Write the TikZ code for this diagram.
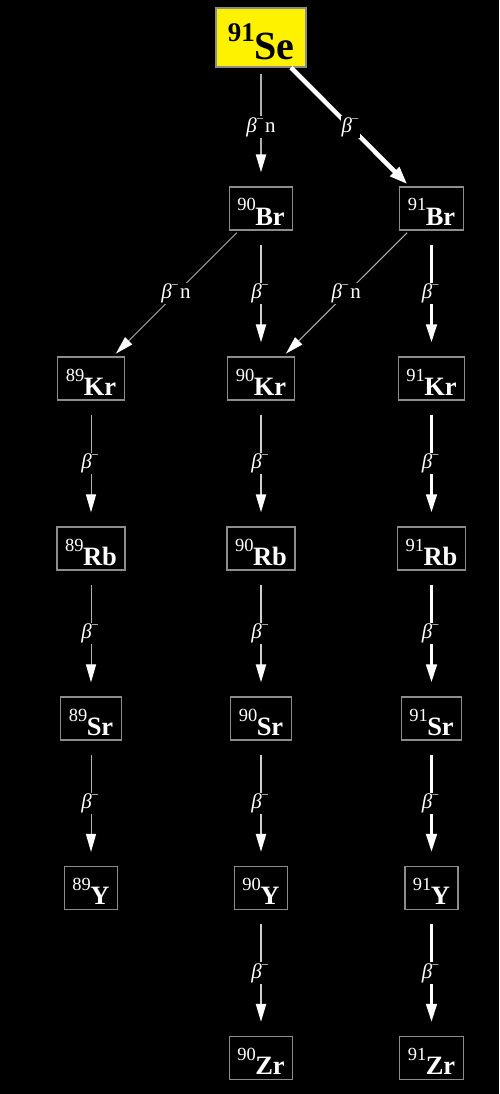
\documentclass[tikz,border=0pt]{standalone}
\usepackage{fontspec}
\setmainfont{Liberation Serif}
\usetikzlibrary{arrows.meta}
\definecolor{boxgray}{HTML}{8C8C8C}
\definecolor{linegray}{HTML}{B0B0B0}
\definecolor{midgray}{HTML}{D0D0D0}
% nuclide label: mass number raised, element symbol in bold
\newcommand\nuc[2]{\raisebox{14pt}{\fontsize{18.5pt}{18.5pt}\selectfont #1}\kern-0.5pt{\fontsize{26.5pt}{26.5pt}\selectfont\bfseries #2}}
% decay labels
\newcommand\bminus{\textit{β}\kern-0.5pt\raisebox{9pt}{\fontsize{13pt}{13pt}\selectfont −}}
\newcommand\bminusn{\bminus\kern1.5pt n}
\begin{document}
\begin{tikzpicture}[x=1pt,y=-1pt,
  nuclide/.style={draw=boxgray, line width=1.2pt, fill=black, text=white,
    inner xsep=8pt, inner ysep=0pt, minimum height=43pt,
    text height=33pt, text depth=0pt},
  parent/.style={draw=boxgray, line width=1.2pt, fill=yellow, text=black,
    inner xsep=10pt, inner ysep=0pt, minimum height=59pt, minimum width=90pt,
    text height=45pt, text depth=0pt},
  lbl/.style={fill=black, text=white, inner xsep=1pt, inner ysep=1pt,
    font=\fontsize{21pt}{21pt}\selectfont},
  decay/.style={-{Triangle[length=18pt,width=10pt,color=white]}},
  thin/.style={decay, draw=linegray, line width=1pt},
  medium/.style={decay, draw=midgray, line width=2pt},
  thick/.style={decay, draw=white, line width=3pt,
    -{Triangle[length=18pt,width=10.5pt,color=white]}},
  vert/.style={shorten <=14pt, shorten >=14pt},
]
\useasboundingbox (0,0) rectangle (499,1094);
\fill[black] (0,0) rectangle (499,1094);

% parent
\node[parent] (Se) at (261,37.5)
  {\raisebox{18pt}{\fontsize{27pt}{27pt}\selectfont\bfseries 91}\kern-0.5pt{\fontsize{40pt}{40pt}\selectfont\bfseries Se}};

% columns
\node[nuclide] (Br90) at (261,208.5) {\nuc{90}{Br}};
\node[nuclide] (Br91) at (431.5,208.5) {\nuc{91}{Br}};

\node[nuclide] (Kr89) at (91,378.5) {\nuc{89}{Kr}};
\node[nuclide] (Kr90) at (261,378.5) {\nuc{90}{Kr}};
\node[nuclide] (Kr91) at (431.5,378.5) {\nuc{91}{Kr}};

\node[nuclide] (Rb89) at (91,548.5) {\nuc{89}{Rb}};
\node[nuclide] (Rb90) at (261,548.5) {\nuc{90}{Rb}};
\node[nuclide] (Rb91) at (431.5,548.5) {\nuc{91}{Rb}};

\node[nuclide] (Sr89) at (91,718.5) {\nuc{89}{Sr}};
\node[nuclide] (Sr90) at (261,718.5) {\nuc{90}{Sr}};
\node[nuclide] (Sr91) at (431.5,718.5) {\nuc{91}{Sr}};

\node[nuclide] (Y89) at (91,888) {\nuc{89}{Y}};
\node[nuclide] (Y90) at (261,888) {\nuc{90}{Y}};
\node[nuclide] (Y91) at (431.5,888) {\nuc{91}{Y}};

\node[nuclide] (Zr90) at (261,1058) {\nuc{90}{Zr}};
\node[nuclide] (Zr91) at (431.5,1058) {\nuc{91}{Zr}};

% decays from the parent
\draw[decay, draw=linegray, line width=2pt, shorten <=6pt, shorten >=14pt]
  (Se) -- node[lbl] {\bminusn} (Br90);
\draw[thick, line width=4.5pt, -{Triangle[length=18pt,width=12pt,color=white]},
  shorten >=3pt] (Se) -- node[lbl] {\bminus} (Br91);

% bromine branches
\draw[thin, shorten <=3pt, shorten >=4pt] (Br90) -- node[lbl] {\bminusn} (Kr89);
\draw[thin, shorten <=3pt, shorten >=4pt] (Br91) -- node[lbl] {\bminusn} (Kr90);
\draw[medium, vert] (Br90) -- node[lbl, xshift=-1pt] {\bminus} (Kr90);
\draw[thick, vert] (Br91) -- node[lbl, xshift=-1pt] {\bminus} (Kr91);

% A = 89 chain
\draw[thin, vert] (Kr89) -- node[lbl, xshift=-1pt] {\bminus} (Rb89);
\draw[thin, vert] (Rb89) -- node[lbl, xshift=-1pt] {\bminus} (Sr89);
\draw[thin, vert] (Sr89) -- node[lbl, xshift=-1pt] {\bminus} (Y89);

% A = 90 chain
\draw[medium, vert] (Kr90) -- node[lbl, xshift=-1pt] {\bminus} (Rb90);
\draw[medium, vert] (Rb90) -- node[lbl, xshift=-1pt] {\bminus} (Sr90);
\draw[medium, vert] (Sr90) -- node[lbl, xshift=-1pt] {\bminus} (Y90);
\draw[medium, vert] (Y90) -- node[lbl, xshift=-1pt] {\bminus} (Zr90);

% A = 91 chain
\draw[thick, vert] (Kr91) -- node[lbl, xshift=-1pt] {\bminus} (Rb91);
\draw[thick, vert] (Rb91) -- node[lbl, xshift=-1pt] {\bminus} (Sr91);
\draw[thick, vert] (Sr91) -- node[lbl, xshift=-1pt] {\bminus} (Y91);
\draw[thick, vert] (Y91) -- node[lbl, xshift=-1pt] {\bminus} (Zr91);
\end{tikzpicture}
\end{document}
